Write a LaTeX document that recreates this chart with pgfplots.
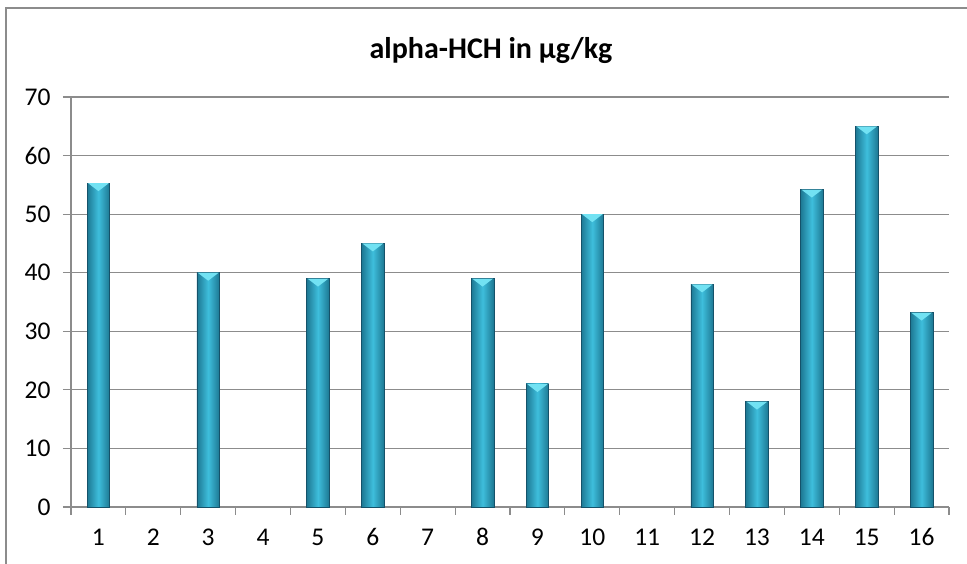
\documentclass[border=0pt]{standalone}
\usepackage{pgfplots}
\pgfplotsset{compat=1.18}
\usepackage{fontspec}
\setmainfont[Numbers=Lining]{Carlito}
\definecolor{gridgray}{HTML}{8C8C8C}
\definecolor{bardark}{HTML}{1D7893}
\definecolor{barlight}{HTML}{3EBEDC}
\definecolor{baredge}{HTML}{15526A}
\definecolor{capcol}{HTML}{72E2F3}
\pgfdeclareplotmark{capdown}{%
  \pgfpathmoveto{\pgfqpoint{-10.5pt}{0pt}}%
  \pgfpathlineto{\pgfqpoint{10.5pt}{0pt}}%
  \pgfpathlineto{\pgfqpoint{0pt}{-8pt}}%
  \pgfpathclose\pgfusepathqfill}
\pgfplotstableread{
x y
1 55.3
3 40
5 39
6 45
8 39
9 21
10 50
12 38
13 18
14 54.2
15 65
16 33.2
}\datatable
\pgfplotsset{mybar/.style={ybar, bar shift=0pt, bar width=22.5pt, draw=baredge, line width=0.6pt,
  left color=bardark, right color=bardark, middle color=barlight}}
\begin{document}
\begin{tikzpicture}[x=1pt,y=1pt]
\useasboundingbox (0,0) rectangle (967,564);
\draw[gridgray, line width=2pt] (6,0) -- (6,555.5) -- (967,555.5);
\node[font=\fontsize{30}{34}\selectfont\bfseries] at (491,513) {alpha-HCH in µg/kg};
\begin{axis}[
  at={(71pt,57pt)}, anchor=south west,
  scale only axis, width=878pt, height=410pt,
  xmin=0.5, xmax=16.5, ymin=0, ymax=70,
  xtick={0.5,1.5,...,16.5},
  x tick label as interval=true,
  xticklabels={1,2,3,4,5,6,7,8,9,10,11,12,13,14,15,16},
  ytick={0,10,...,70},
  axis x line*=bottom, axis y line*=left,
  axis line style={draw=gridgray, line width=1.2pt, -},
  tick style={draw=gridgray, line width=1.2pt},
  tick align=outside, major tick length=8pt,
  ymajorgrids, grid style={draw=gridgray, line width=1.2pt},
  tick label style={font=\fontsize{25.5}{28}\selectfont, text=black},
  /pgf/number format/assume math mode=true,
  xticklabel style={yshift=-11pt, text height=16pt, text depth=0pt},
  yticklabel style={xshift=-9pt},
  clip=false,
]
\addplot[mybar] coordinates {(1,55.3)};
\addplot[mybar] coordinates {(3,40)};
\addplot[mybar] coordinates {(5,39)};
\addplot[mybar] coordinates {(6,45)};
\addplot[mybar] coordinates {(8,39)};
\addplot[mybar] coordinates {(9,21)};
\addplot[mybar] coordinates {(10,50)};
\addplot[mybar] coordinates {(12,38)};
\addplot[mybar] coordinates {(13,18)};
\addplot[mybar] coordinates {(14,54.2)};
\addplot[mybar] coordinates {(15,65)};
\addplot[mybar] coordinates {(16,33.2)};
\addplot[only marks, mark=capdown, mark options={fill=capcol, draw=none}]
  table[x=x,y=y]{\datatable};
\end{axis}
\end{tikzpicture}
\end{document}
